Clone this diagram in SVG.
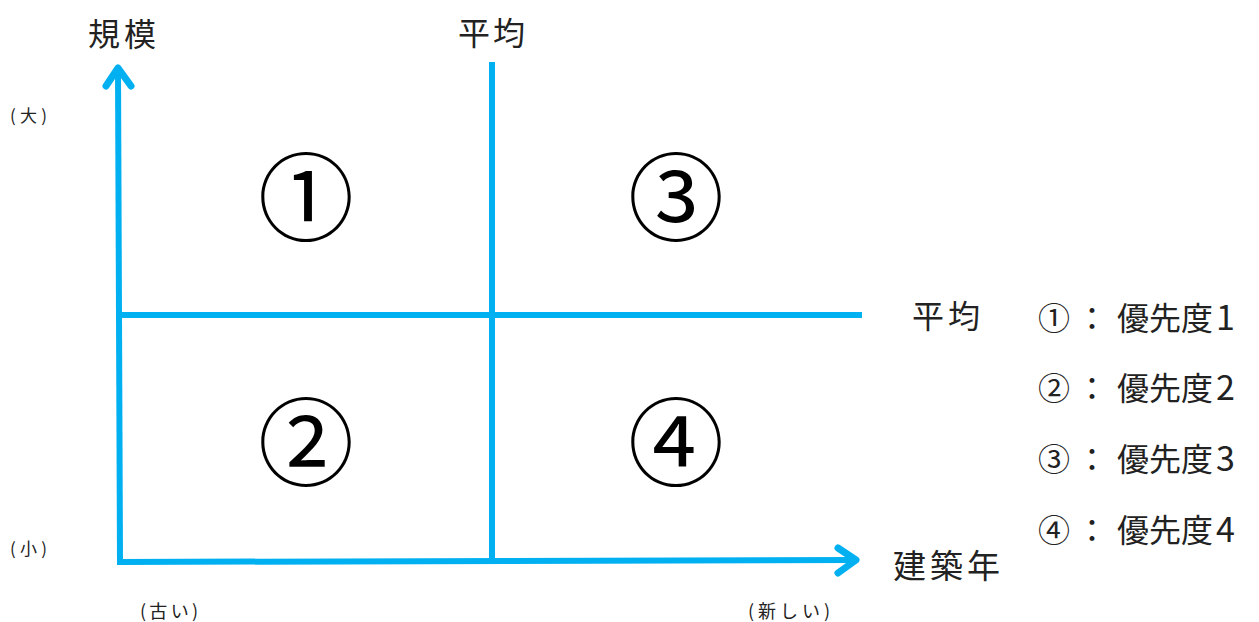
<svg xmlns="http://www.w3.org/2000/svg" width="1259" height="622" viewBox="0 0 1259 622">
<style>
.ax{stroke:#00B0F0;stroke-width:6;fill:none;stroke-linecap:butt}
.hd{stroke:#00B0F0;stroke-width:7;fill:none;stroke-linecap:round;stroke-linejoin:round}
.s{font-family:"Noto Sans CJK JP",sans-serif;fill:#222}
.lg{font-family:"Noto Sans CJK JP",sans-serif;font-size:32px;fill:#222}
.big{font-family:"Noto Sans CJK JP",sans-serif;font-size:96px;text-anchor:middle;dominant-baseline:central;fill:#000}
</style>
<rect width="1259" height="622" fill="#fff"/>
<g id="connectors">
<line class="ax" x1="120" y1="563" x2="118" y2="68"/>
<polyline class="hd" points="106,86 118,68 131,86"/>
<line class="ax" x1="117" y1="562" x2="855" y2="560"/>
<polyline class="hd" points="838,548 856,560 838,573"/>
<line class="ax" x1="492" y1="62" x2="492" y2="560"/>
<line class="ax" x1="120" y1="315" x2="862" y2="315"/>
</g>
<g id="q1"><text class="big" x="306" y="191">①</text></g>
<g id="q3"><text class="big" x="676" y="191">③</text></g>
<g id="q2"><text class="big" x="306" y="436">②</text></g>
<g id="q4"><text class="big" x="676" y="436">④</text></g>
<g id="labels">
<text class="s" x="88" y="46" font-size="32" textLength="68">規模</text>
<text class="s" x="458" y="45" font-size="32" textLength="67">平均</text>
<text class="s" x="912" y="328" font-size="32" textLength="68">平均</text>
<text class="s" x="893" y="578" font-size="33" textLength="107">建築年</text>
<text class="s" x="10" y="122" font-size="17" textLength="37">(大)</text>
<text class="s" x="10" y="555" font-size="17" textLength="37">(小)</text>
<text class="s" x="140" y="618" font-size="18" textLength="58">(古い)</text>
<text class="s" x="748" y="618" font-size="18" textLength="82">(新しい)</text>
</g>
<g id="legend">
<text class="lg" y="330"><tspan x="1038">①</tspan><tspan x="1076">：</tspan><tspan x="1117">優先度</tspan><tspan x="1216" font-size="34">1</tspan></text>
<text class="lg" y="400"><tspan x="1038">②</tspan><tspan x="1076">：</tspan><tspan x="1117">優先度</tspan><tspan x="1216" font-size="34">2</tspan></text>
<text class="lg" y="471"><tspan x="1038">③</tspan><tspan x="1076">：</tspan><tspan x="1117">優先度</tspan><tspan x="1216" font-size="34">3</tspan></text>
<text class="lg" y="542"><tspan x="1038">④</tspan><tspan x="1076">：</tspan><tspan x="1117">優先度</tspan><tspan x="1216" font-size="34">4</tspan></text>
</g>
</svg>
